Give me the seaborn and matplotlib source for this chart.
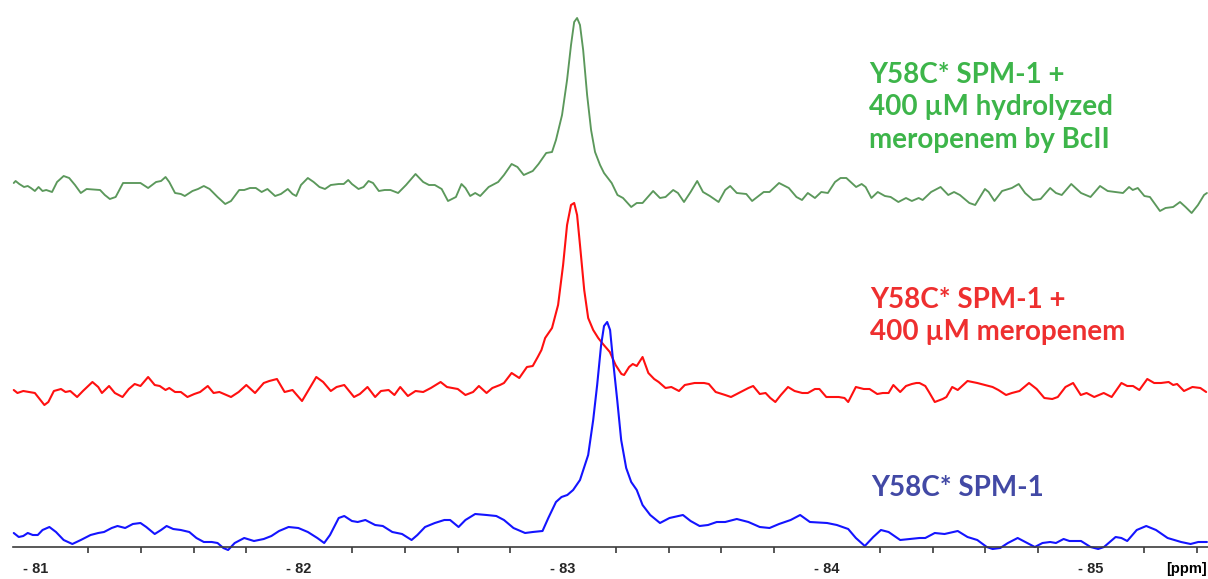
import numpy as np
import matplotlib
matplotlib.use("Agg")
import matplotlib.pyplot as plt
import seaborn as sns
from matplotlib.ticker import FixedLocator, MultipleLocator, FuncFormatter

sns.set_theme(style="white")
plt.rcParams['font.family'] = ['Liberation Sans', 'DejaVu Sans']

# 19F spectra: chemical shift (ppm) and intensity (a.u.)
hydrolyzed_ppm = [
    -80.919, -80.926, -80.940, -80.958, -80.972, -80.984, -80.999, -81.013, -81.028, -81.042,
    -81.064, -81.083, -81.108, -81.129, -81.151, -81.173, -81.195, -81.246, -81.264, -81.283,
    -81.305, -81.333, -81.363, -81.399, -81.428, -81.458, -81.477, -81.494, -81.508, -81.530,
    -81.552, -81.567, -81.596, -81.617, -81.639, -81.661, -81.691, -81.720, -81.742, -81.773,
    -81.792, -81.814, -81.836, -81.858, -81.880, -81.909, -81.931, -81.957, -81.975, -81.989,
    -82.007, -82.033, -82.055, -82.077, -82.098, -82.120, -82.150, -82.169, -82.186, -82.200,
    -82.225, -82.244, -82.263, -82.280, -82.302, -82.324, -82.346, -82.375, -82.405, -82.441,
    -82.470, -82.492, -82.514, -82.540, -82.564, -82.594, -82.615, -82.630, -82.648, -82.667,
    -82.686, -82.718, -82.754, -82.776, -82.805, -82.827, -82.851, -82.885, -82.907, -82.936,
    -82.958, -82.973, -82.996, -83.015, -83.030, -83.042, -83.053, -83.064, -83.076, -83.091,
    -83.106, -83.121, -83.140, -83.155, -83.184, -83.206, -83.227, -83.258, -83.279, -83.301,
    -83.341, -83.367, -83.388, -83.417, -83.435, -83.458, -83.483, -83.508, -83.530, -83.556,
    -83.589, -83.614, -83.633, -83.658, -83.694, -83.716, -83.760, -83.782, -83.818, -83.855,
    -83.884, -83.905, -83.927, -83.954, -83.978, -84.003, -84.030, -84.051, -84.073, -84.110,
    -84.131, -84.146, -84.168, -84.192, -84.219, -84.241, -84.270, -84.299, -84.321, -84.347,
    -84.362, -84.394, -84.430, -84.459, -84.481, -84.503, -84.539, -84.561, -84.598, -84.612,
    -84.634, -84.663, -84.700, -84.726, -84.750, -84.780, -84.809, -84.845, -84.867, -84.889,
    -84.925, -84.962, -84.998, -85.034, -85.063, -85.093, -85.121, -85.144, -85.158, -85.177,
    -85.202, -85.223, -85.261, -85.282, -85.311, -85.337, -85.358, -85.381, -85.405, -85.428,
    -85.439,
]
hydrolyzed_int = [
    4, 6, 3, 0, 1, -1, -4, 0, -4, -3,
    -5, 5, 11, 9, 2, -6, -2, -3, -8, -12,
    -10, 4, 4, 4, -1, 5, 6, 10, 5, -6,
    -7, -9, -4, -2, 1, -2, -10, -17, -14, -3,
    -3, -1, -1, -5, -2, -9, -7, -2, -7, -9,
    2, 9, 5, 0, -2, 2, 3, 3, 7, 3,
    -2, 0, 6, 4, -4, -3, -3, -6, 2, 13,
    5, 2, 2, -2, -14, -10, 3, -1, -9, -6,
    -9, 0, 5, 12, 23, 20, 12, 16, 23, 34,
    35, 47, 72, 107, 142, 165, 169, 162, 137, 92,
    57, 35, 22, 14, 4, -8, -11, -20, -16, -16,
    -4, -11, -10, -3, -6, -15, -5, 6, -5, -9,
    -15, -3, 1, -6, -7, -14, -5, -5, 4, -1,
    -10, -13, -6, -11, -5, -6, 5, 9, 9, 0,
    3, 0, -11, -5, -9, -10, -15, -11, -14, -11,
    -13, -5, 0, -8, -5, -8, -16, -18, -2, -5,
    -14, -4, -1, 3, -6, -13, -12, -1, -6, -8,
    3, -6, -10, 1, -4, -5, -6, 0, -3, -1,
    -9, -10, -24, -21, -20, -15, -20, -26, -18, -8,
    -6,
]

meropenem_ppm = [
    -80.919, -80.933, -80.955, -80.977, -80.999, -81.020, -81.035, -81.050, -81.071, -81.098,
    -81.115, -81.133, -81.159, -81.181, -81.217, -81.239, -81.253, -81.280, -81.302, -81.331,
    -81.355, -81.377, -81.399, -81.428, -81.453, -81.472, -81.494, -81.508, -81.530, -81.552,
    -81.577, -81.603, -81.625, -81.654, -81.676, -81.698, -81.742, -81.771, -81.800, -81.833,
    -81.866, -81.887, -81.916, -81.945, -81.975, -82.011, -82.040, -82.065, -82.091, -82.120,
    -82.142, -82.171, -82.208, -82.230, -82.259, -82.288, -82.310, -82.339, -82.361, -82.383,
    -82.412, -82.441, -82.470, -82.499, -82.536, -82.560, -82.601, -82.630, -82.659, -82.681,
    -82.710, -82.732, -82.761, -82.776, -82.805, -82.834, -82.863, -82.885, -82.904, -82.918,
    -82.932, -82.958, -82.981, -83.000, -83.015, -83.030, -83.042, -83.053, -83.064, -83.080,
    -83.095, -83.114, -83.133, -83.151, -83.177, -83.199, -83.221, -83.231, -83.250, -83.264,
    -83.279, -83.301, -83.323, -83.345, -83.362, -83.388, -83.410, -83.439, -83.461, -83.498,
    -83.534, -83.552, -83.578, -83.614, -83.636, -83.665, -83.702, -83.720, -83.745, -83.767,
    -83.785, -83.804, -83.825, -83.852, -83.877, -83.906, -83.927, -83.954, -83.971, -83.997,
    -84.044, -84.066, -84.080, -84.109, -84.139, -84.161, -84.190, -84.211, -84.233, -84.251,
    -84.277, -84.299, -84.321, -84.338, -84.350, -84.372, -84.386, -84.408, -84.438, -84.452,
    -84.474, -84.495, -84.532, -84.569, -84.598, -84.627, -84.649, -84.678, -84.700, -84.729,
    -84.765, -84.794, -84.823, -84.853, -84.874, -84.903, -84.932, -84.961, -84.983, -85.012,
    -85.048, -85.078, -85.115, -85.137, -85.159, -85.183, -85.213, -85.239, -85.265, -85.294,
    -85.311, -85.326, -85.352, -85.384, -85.414, -85.436,
]
meropenem_int = [
    -2, -5, -3, -4, -5, -12, -17, -14, -3, -1,
    -4, -3, -9, -3, 6, 1, -5, 2, -5, -9,
    -1, 4, 2, 11, 3, 2, -2, 0, -4, -4,
    -9, -6, -4, 2, -5, -4, -9, -4, 3, -5,
    5, 7, 9, -4, -2, -13, 0, 11, 6, -3,
    1, 3, -9, -6, 1, -9, -3, -2, -7, 1,
    -8, -3, -4, 0, 6, 1, -1, -7, -4, 2,
    -5, 0, 3, 5, 15, 10, 21, 22, 31, 38,
    50, 60, 83, 123, 163, 183, 185, 173, 143, 98,
    70, 58, 50, 44, 36, 23, 14, 13, 21, 24,
    22, 31, 15, 9, 6, 0, 1, -3, 3, 5,
    5, 4, -4, -7, -9, -5, 0, 2, -6, -5,
    -10, -14, -7, 1, -3, -5, -5, -1, -1, -9,
    -9, -10, -14, 1, -1, -1, -6, -5, -5, 3,
    -4, 2, 4, 5, 5, 2, -4, -14, -11, -9,
    1, -2, 7, 5, 3, 1, -2, -7, -5, -3,
    5, -1, -10, -11, -9, 1, 5, -7, -5, -9,
    -5, -9, 5, 2, 2, -2, 9, 5, 5, 6,
    3, 4, -3, 1, 0, -4,
]

apo_ppm = [
    -80.919, -80.938, -80.955, -80.972, -80.991, -81.010, -81.028, -81.054, -81.079, -81.108,
    -81.141, -81.173, -81.210, -81.239, -81.261, -81.290, -81.312, -81.341, -81.370, -81.399,
    -81.421, -81.453, -81.477, -81.498, -81.523, -81.552, -81.584, -81.611, -81.639, -81.669,
    -81.691, -81.713, -81.731, -81.756, -81.792, -81.829, -81.866, -81.895, -81.924, -81.960,
    -81.997, -82.033, -82.069, -82.095, -82.117, -82.150, -82.171, -82.200, -82.222, -82.251,
    -82.288, -82.317, -82.353, -82.390, -82.426, -82.448, -82.477, -82.514, -82.550, -82.572,
    -82.604, -82.630, -82.667, -82.710, -82.747, -82.776, -82.812, -82.856, -82.885, -82.922,
    -82.944, -82.973, -82.994, -83.016, -83.038, -83.064, -83.095, -83.114, -83.129, -83.144,
    -83.155, -83.167, -83.178, -83.189, -83.205, -83.220, -83.239, -83.258, -83.279, -83.301,
    -83.330, -83.367, -83.403, -83.454, -83.483, -83.517, -83.549, -83.582, -83.614, -83.658,
    -83.702, -83.745, -83.782, -83.818, -83.862, -83.898, -83.935, -84.000, -84.037, -84.080,
    -84.109, -84.143, -84.175, -84.204, -84.233, -84.277, -84.313, -84.350, -84.372, -84.408,
    -84.445, -84.495, -84.532, -84.569, -84.605, -84.627, -84.656, -84.685, -84.722, -84.758,
    -84.787, -84.816, -84.845, -84.867, -84.896, -84.918, -84.962, -84.998, -85.027, -85.049,
    -85.093, -85.115, -85.137, -85.173, -85.209, -85.246, -85.290, -85.341, -85.377, -85.406,
    -85.439,
]
apo_int = [
    -3, -7, -6, -3, -5, -5, 0, 3, -2, -10,
    -14, -10, -5, -3, -2, 2, 4, 2, 6, 7,
    3, -4, 0, 4, 1, 0, -2, -8, -12, -12,
    -13, -18, -20, -13, -8, -11, -9, -6, -1, 3,
    2, -2, -8, -13, -5, 12, 14, 9, 8, 10,
    5, 4, -2, -4, -10, -5, 3, 7, 10, 10,
    3, 10, 16, 15, 14, 10, 2, -3, -2, -1,
    12, 28, 33, 35, 40, 50, 75, 110, 145, 185,
    204, 208, 200, 170, 130, 90, 62, 48, 40, 25,
    15, 7, 12, 15, 9, 4, 5, 8, 8, 11,
    8, 3, 2, 6, 10, 15, 8, 7, 5, 1,
    -8, -16, -7, 0, -2, -10, -9, -8, -8, -3,
    -4, -1, -7, -10, -17, -19, -18, -13, -8, -13,
    -17, -13, -12, -13, -9, -11, -11, -17, -19, -17,
    -7, -8, -11, 0, 4, 0, -8, -12, -14, -12,
    -12,
]

major_ticks = [-81, -82, -83, -84, -85]

hydro_label = ["Y58C* SPM-1 +", "400 µM hydrolyzed", "meropenem by BcII"]
mero_label = ["Y58C* SPM-1 +", "400 µM meropenem"]
apo_label = ["Y58C* SPM-1"]

W, H = 1208, 579
fig = plt.figure(figsize=(W / 100, H / 100), dpi=100)
fig.patch.set_facecolor("white")
ax_bottom = 546.7
ax = fig.add_axes([12.7 / W, (H - ax_bottom) / H, 1 - 12.7 / W, ax_bottom / H])

# stacked traces: vertical offset, colour, width
traces = [
    (hydrolyzed_ppm, hydrolyzed_int, 359.7, "#5b985b", 1.35),
    (meropenem_ppm, meropenem_int, 158.7, "#ff1010", 1.5),
    (apo_ppm, apo_int, 16.7, "#1414ff", 1.5),
]
for ppm, inten, off, col, lw in traces:
    sns.lineplot(x=ppm, y=np.asarray(inten, float) + off, ax=ax, color=col,
                 linewidth=lw, estimator=None, sort=False)
    ax.lines[-1].set_clip_on(False)
    ax.lines[-1].set_solid_joinstyle("round")

ax.set_xlim(-80.915, -85.443)
ax.set_ylim(0, ax_bottom)
ax.set_facecolor("white")
for side in ("left", "top", "right"):
    ax.spines[side].set_visible(False)
ax.spines["bottom"].set_color("#3c3c3c")
ax.spines["bottom"].set_linewidth(1.2)
ax.set_yticks([])
ax.xaxis.set_major_locator(FixedLocator(major_ticks))
ax.xaxis.set_minor_locator(MultipleLocator(0.2))
ax.xaxis.set_major_formatter(FuncFormatter(lambda v, p: f"- {abs(int(round(v)))}"))
ax.tick_params(axis="x", which="major", direction="out", length=7.2, width=1.1,
               color="#2a2a2a", pad=4.0, labelsize=10.5)
ax.tick_params(axis="x", which="minor", direction="out", length=4.6, width=1.1,
               color="#2a2a2a", bottom=True)
for lab in ax.get_xticklabels():
    lab.set_fontweight("bold")
ax.set_xlabel("")
ax.set_ylabel("")

fig.text(1207 / W, 1 - 569 / H, "[ppm]", ha="right", va="center",
         fontsize=10.5, fontweight="bold", color="black")

lab_font = dict(family=["Lato", "DejaVu Sans"], fontweight="bold", fontsize=20)
for txt, yb in zip(hydro_label, [83.3, 115.3, 147.7]):
    fig.text(869 / W, 1 - yb / H, txt, ha="left", va="baseline", color="#3db54a", **lab_font)
for txt, yb in zip(mero_label, [308.3, 340.3]):
    fig.text(870 / W, 1 - yb / H, txt, ha="left", va="baseline", color="#ee2f2f", **lab_font)
for txt, yb in zip(apo_label, [496.0]):
    fig.text(871 / W, 1 - yb / H, txt, ha="left", va="baseline", color="#4249a5", **lab_font)

fig.savefig("out.png", dpi=100, facecolor="white")
